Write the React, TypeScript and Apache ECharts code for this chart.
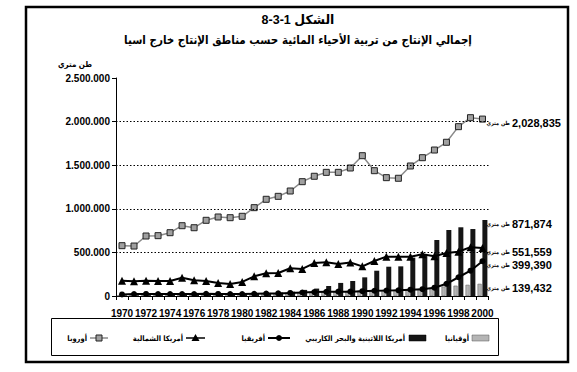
import React, { useEffect, useRef } from "react";
import * as echarts from "echarts";

const years = [
  "1970", "1971", "1972", "1973", "1974", "1975", "1976", "1977", "1978", "1979",
  "1980", "1981", "1982", "1983", "1984", "1985", "1986", "1987", "1988", "1989",
  "1990", "1991", "1992", "1993", "1994", "1995", "1996", "1997", "1998", "1999", "2000",
];

const europe = [
  577000, 573000, 688000, 692000, 726000, 806000, 783000, 868000, 906000, 898000,
  914000, 1013000, 1109000, 1143000, 1204000, 1311000, 1373000, 1418000, 1418000, 1468000,
  1609000, 1437000, 1357000, 1350000, 1491000, 1586000, 1674000, 1763000, 1942000, 2045000, 2028835,
];

const northAmerica = [
  176000, 168000, 176000, 172000, 172000, 210000, 180000, 172000, 149000, 138000,
  161000, 226000, 260000, 264000, 318000, 310000, 378000, 386000, 366000, 384000,
  340000, 401000, 451000, 450000, 451000, 478000, 455000, 494000, 508000, 560000, 551559,
];

const africa = [
  18000, 22000, 24000, 22000, 22000, 22000, 22000, 25000, 24000, 22000,
  22000, 25000, 28000, 30000, 35000, 40000, 45000, 48000, 50000, 50000,
  55000, 60000, 62000, 65000, 72000, 78000, 95000, 140000, 215000, 290000, 399390,
];

const latinAmerica = [
  8000, 9000, 10000, 11000, 12000, 14000, 16000, 18000, 20000, 22000,
  25000, 30000, 35000, 40000, 50000, 70000, 85000, 115000, 150000, 172000,
  214000, 290000, 336000, 340000, 440000, 470000, 642000, 757000, 788000, 768000, 871874,
];

const oceania = [
  8000, 9000, 10000, 11000, 12000, 13000, 14000, 15000, 17000, 19000,
  22000, 25000, 28000, 32000, 36000, 40000, 45000, 50000, 55000, 58000,
  62000, 66000, 70000, 73000, 78000, 85000, 95000, 108000, 118000, 128000, 139432,
];

const gridValues = [500000, 1000000, 1500000, 2000000];

const nameEurope = "أوروبا";
const nameNA = "أمريكا الشمالية";
const nameAfrica = "أفريقيا";
const nameLatAm = "أمريكا اللاتينية والبحر الكاريبي";
const nameOceania = "أوقيانيا";
const unitText = "طن متري";
const titleText = "8-3-1 الشكل";
const subtitleText = "إجمالي الإنتاج من تربية الأحياء المائية حسب مناطق الإنتاج خارج اسيا";

const FONT = "Arial, 'Liberation Sans', 'DejaVu Sans', sans-serif";
const AR = "'DejaVu Sans Condensed', 'DejaVu Sans', sans-serif";

function dotFormat(v: number): string {
  if (v === 0) return "0";
  return Math.round(v).toString().replace(/\B(?=(\d{3})+(?!\d))/g, ".");
}
function commaFormat(v: number): string {
  return Math.round(v).toString().replace(/\B(?=(\d{3})+(?!\d))/g, ",");
}

let measureCtx: CanvasRenderingContext2D | null = null;
function measure(text: string, font: string): number {
  if (!measureCtx) measureCtx = document.createElement("canvas").getContext("2d");
  if (!measureCtx) return text.length * 6;
  measureCtx.font = font;
  return measureCtx.measureText(text).width;
}

function leftText(text: string, x: number, y: number, font: string, id?: string) {
  return {
    type: "text",
    id,
    x,
    y,
    silent: true,
    style: { text, font, fill: "#000", textAlign: "left", textVerticalAlign: "middle" },
  };
}
function centerText(text: string, cx: number, y: number, font: string) {
  return leftText(text, cx - measure(text, font) / 2, y, font);
}
function rightText(text: string, rx: number, y: number, font: string, id?: string) {
  return leftText(text, rx - measure(text, font), y, font, id);
}

export default function App() {
  const ref = useRef<HTMLDivElement>(null);
  useEffect(() => {
    if (!ref.current) return;
    const chart = echarts.init(ref.current, undefined, { renderer: "svg" });

    const legY = 338;
    const legFont = `bold 7.5px ${AR}`;
    const legendGraphics: any[] = [
      // Europe
      { type: "line", shape: { x1: 90, y1: legY, x2: 108, y2: legY }, style: { stroke: "#8a8a8a", lineWidth: 1.5 } },
      { type: "rect", shape: { x: 96, y: legY - 3, width: 6, height: 6 }, style: { fill: "#a0a0a0", stroke: "#222", lineWidth: 1 } },
      rightText(nameEurope, 87, legY, legFont),
      // North America
      { type: "line", shape: { x1: 186, y1: legY, x2: 205, y2: legY }, style: { stroke: "#000", lineWidth: 1.5 } },
      { type: "polygon", shape: { points: [[195.5, legY - 4], [199.5, legY + 3], [191.5, legY + 3]] }, style: { fill: "#000" } },
      rightText(nameNA, 183, legY, legFont),
      // Africa
      { type: "line", shape: { x1: 268, y1: legY, x2: 290, y2: legY }, style: { stroke: "#000", lineWidth: 2 } },
      { type: "circle", shape: { cx: 279, cy: legY, r: 3 }, style: { fill: "#000" } },
      rightText(nameAfrica, 265, legY, legFont),
      // Latin America
      { type: "rect", shape: { x: 409, y: legY - 3, width: 17, height: 6 }, style: { fill: "#151515", stroke: "#000", lineWidth: 0.5 } },
      rightText(nameLatAm, 405, legY, legFont),
      // Oceania
      { type: "rect", shape: { x: 472, y: legY - 3, width: 17, height: 6 }, style: { fill: "#b5b5b5", stroke: "#555", lineWidth: 0.5 } },
      rightText(nameOceania, 469, legY, legFont),
    ].map((g) => ({ silent: true, ...g }));

    chart.setOption({
      animation: false,
      backgroundColor: "#fff",
      grid: { left: 116, top: 78, width: 372.5, height: 218, containLabel: false },
      xAxis: {
        type: "category",
        data: years,
        boundaryGap: true,
        axisLine: { show: true, lineStyle: { color: "#000", width: 1 } },
        axisTick: { show: true, interval: 0, length: 4, lineStyle: { color: "#000" } },
        axisLabel: {
          interval: 1,
          fontSize: 10,
          fontWeight: "bold",
          fontFamily: FONT,
          color: "#000",
          margin: 12,
        },
        splitLine: { show: false },
      },
      yAxis: {
        type: "value",
        min: 0,
        max: 2500000,
        interval: 500000,
        axisLine: { show: true, lineStyle: { color: "#000", width: 1 } },
        axisTick: { show: true, length: 4, lineStyle: { color: "#000" } },
        axisLabel: {
          formatter: (v: number) => dotFormat(v),
          fontSize: 10,
          fontWeight: "bold",
          fontFamily: FONT,
          color: "#000",
          margin: 6,
        },
        splitLine: { show: false },
      },
      series: [
        {
          name: nameOceania,
          type: "bar",
          data: oceania,
          barWidth: 4,
          barGap: "20%",
          itemStyle: { color: "#b5b5b5", borderColor: "#555", borderWidth: 0.5 },
          markLine: {
            silent: true,
            symbol: ["none", "none"],
            label: { show: false },
            lineStyle: { type: [1.5, 2], color: "#000", width: 1 },
            data: gridValues.map((v) => ({ yAxis: v })),
          },
          z: 1,
        },
        {
          name: nameLatAm,
          type: "bar",
          data: latinAmerica,
          barWidth: 5,
          itemStyle: { color: "#151515" },
          z: 2,
        },
        {
          name: nameAfrica,
          type: "line",
          data: africa,
          symbol: "circle",
          symbolSize: 6,
          lineStyle: { color: "#000", width: 2 },
          itemStyle: { color: "#000" },
          z: 3,
        },
        {
          name: nameNA,
          type: "line",
          data: northAmerica,
          symbol: "triangle",
          symbolSize: 8,
          lineStyle: { color: "#000", width: 2 },
          itemStyle: { color: "#000" },
          z: 3,
        },
        {
          name: nameEurope,
          type: "line",
          data: europe,
          symbol: "rect",
          symbolSize: 6,
          lineStyle: { color: "#8a8a8a", width: 1.5 },
          itemStyle: { color: "#a0a0a0", borderColor: "#222", borderWidth: 1 },
          z: 4,
        },
      ],
    });

    const graphics: any[] = [
      {
        type: "rect",
        silent: true,
        shape: { x: 26, y: 7, width: 542, height: 355 },
        style: { fill: "none", stroke: "#000", lineWidth: 2.5 },
      },
      {
        type: "rect",
        silent: true,
        shape: { x: 51.5, y: 318.5, width: 447, height: 37 },
        style: { fill: "none", stroke: "#000", lineWidth: 1 },
      },
      centerText(titleText, 298, 20, `bold 12.5px ${FONT}`),
      centerText(subtitleText, 298, 40, `bold 11.5px ${AR}`),
      centerText(unitText, 75, 64, `bold 8px ${AR}`),
      ...legendGraphics,
    ];

    const last = years.length - 1;
    const ends = [europe[last], latinAmerica[last], northAmerica[last], africa[last], oceania[last]];
    ends.forEach((v) => {
      const p = chart.convertToPixel({ gridIndex: 0 }, [years[last], v]) as number[];
      const y = p[1] + 4;
      graphics.push(rightText(unitText, 510, y, `bold 5.5px ${AR}`));
      graphics.push(leftText(commaFormat(v), 512, y, `bold 11px ${FONT}`));
    });
    chart.setOption({ graphic: graphics });

    return () => chart.dispose();
  }, []);
  return (
    <div
      ref={ref}
      style={{ position: "absolute", left: 0, top: 0, width: 577, height: 372, background: "#fff" }}
    />
  );
}
